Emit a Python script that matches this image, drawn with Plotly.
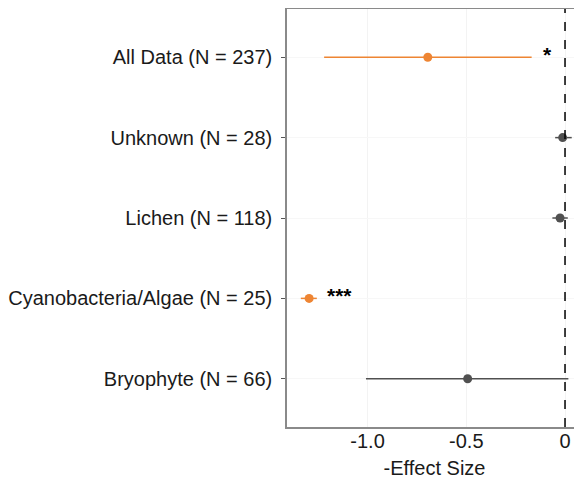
import plotly.graph_objects as go

categories = ["All Data (N = 237)", "Unknown (N = 28)", "Lichen (N = 118)",
              "Cyanobacteria/Algae (N = 25)", "Bryophyte (N = 66)"]
effect = [-0.695, -0.012, -0.025, -1.296, -0.493]
ci_low = [-1.22, -0.05, -0.064, -1.338, -1.008]
ci_high = [-0.169, 0.034, 0.014, -1.257, 0.017]
significant = [True, False, False, True, False]
stars = ["*", "", "", "***", ""]
star_x = [-0.088, None, None, -1.144, None]

ypos = list(range(len(categories)))
orange = "#EE8533"
gray = "#505050"

fig = go.Figure()
for i, cat in enumerate(categories):
    col = orange if significant[i] else gray
    fig.add_trace(go.Scatter(
        x=[effect[i]], y=[ypos[i]], mode="markers",
        marker=dict(color=col, size=9),
        error_x=dict(type="data", symmetric=False,
                     array=[ci_high[i] - effect[i]],
                     arrayminus=[effect[i] - ci_low[i]],
                     color=col, thickness=1.5, width=0),
        showlegend=False, hoverinfo="skip"))

for i, s in enumerate(stars):
    if s:
        fig.add_annotation(x=star_x[i], y=ypos[i], text="<b>" + s + "</b>", showarrow=False,
                           font=dict(size=21, color="black", family="Liberation Sans"),
                           yshift=3)

fig.add_vline(x=0, line=dict(color="black", width=1.5, dash="dash"))

# page body has an 8px margin, so the figure is 8px smaller and margins shifted
fig.update_layout(
    width=574, height=476,
    margin=dict(l=279, r=0, t=1, b=57),
    plot_bgcolor="white", paper_bgcolor="white",
    font=dict(family="Liberation Sans", size=20, color="#1a1a1a"),
    xaxis=dict(range=[-1.408, 0.086], tickvals=[-1.0, -0.5, 0],
               ticktext=["-1.0", "-0.5", "0"],
               showline=True, linecolor="#8a8a8a", linewidth=1.5, mirror=True,
               showgrid=True, gridcolor="#f3f3f3", gridwidth=1,
               zeroline=False, ticks="", ticklabelstandoff=-5,
               title=dict(text="-Effect Size", standoff=10, font=dict(size=20)),
               tickfont=dict(size=20)),
    yaxis=dict(range=[4.6, -0.6], tickvals=ypos, ticktext=categories,
               showline=True, linecolor="#8a8a8a", linewidth=1.5,
               showgrid=True, gridcolor="#f7f7f7", zeroline=False,
               ticks="outside", ticklen=4, tickcolor="#555555",
               ticklabelstandoff=5, tickfont=dict(size=20)),
)

fig.write_html("out.html")
